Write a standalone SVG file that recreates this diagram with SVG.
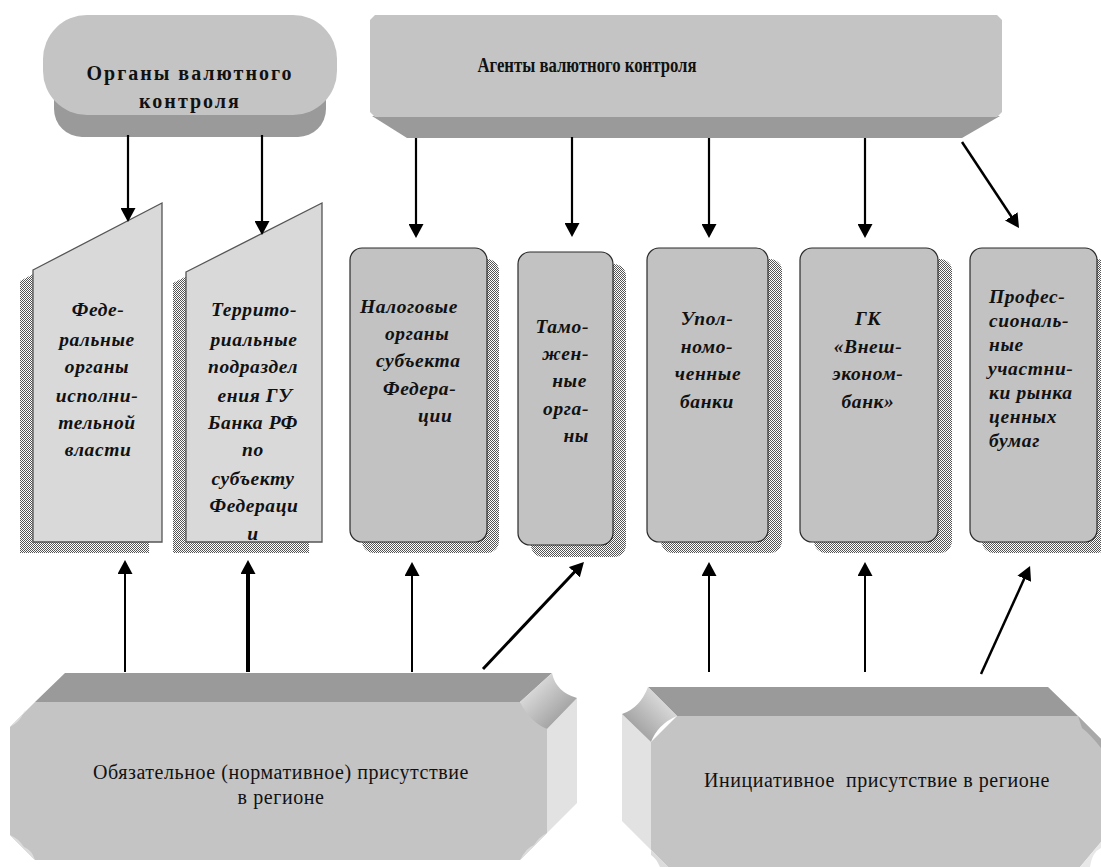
<svg xmlns="http://www.w3.org/2000/svg" width="1101" height="867" viewBox="0 0 1101 867">
<style>
.it{font-family:"Liberation Serif","Times New Roman",serif;font-weight:bold;font-style:italic;font-size:19.5px;letter-spacing:0.6px;fill:#111}
.bd{font-family:"Liberation Serif","Times New Roman",serif;font-weight:bold;font-size:20px;fill:#111}
.rg{font-family:"Liberation Serif","Times New Roman",serif;font-size:20px;letter-spacing:0.55px;fill:#111;white-space:pre}
.mid{text-anchor:middle}
.end{text-anchor:end}
.face{fill:#c4c4c4}
.top{fill:#9a9a9a}
.side{fill:#e2e2e2}
.rnode{fill:#c2c2c2;stroke:#2a2a2a;stroke-width:1.2}
.tnode{fill:#d9d9d9;stroke:#555;stroke-width:1.3}
.shadow{fill:url(#chk)}
.con{stroke:#000;fill:none;marker-end:url(#ah)}
</style>
<defs>
<pattern id="chk" width="2" height="2" patternUnits="userSpaceOnUse">
<rect width="2" height="2" fill="#fff"/>
<rect width="1" height="1" fill="#555"/>
<rect x="1" y="1" width="1" height="1" fill="#555"/>
</pattern>
<marker id="ah" viewBox="0 0 14 15" refX="4" refY="7.5" markerWidth="14" markerHeight="15" markerUnits="userSpaceOnUse" orient="auto">
<path d="M0,0 L14,7.5 L0,15 z" fill="#000"/>
</marker>
<linearGradient id="scoopL" x1="0" y1="0" x2="1" y2="1">
<stop offset="0" stop-color="#f2f2f2"/>
<stop offset="1" stop-color="#8a8a8a"/>
</linearGradient>
<linearGradient id="scoopR" x1="1" y1="0" x2="0" y2="1">
<stop offset="0" stop-color="#f2f2f2"/>
<stop offset="1" stop-color="#8a8a8a"/>
</linearGradient>
</defs>
<rect width="1101" height="867" fill="#fff"/>

<g id="organy">
<rect x="54" y="60" width="272" height="77" rx="28" ry="28" class="top"/>
<rect x="43" y="15" width="294" height="100" rx="44" ry="44" class="face"/>
<text class="bd mid" x="190" y="80" style="letter-spacing:2px">Органы валютного</text>
<text class="bd mid" x="190" y="108" style="letter-spacing:2px">контроля</text>
</g>

<g id="agenty">
<polygon points="372,116 1000,116 962,138 407,138" class="top"/>
<polygon points="375,15 997,15 1002,20 1002,112 997,117 375,117 370,112 370,20" class="face"/>
<text class="bd mid" x="587" y="72" style="font-size:21px" textLength="219" lengthAdjust="spacingAndGlyphs">Агенты валютного контроля</text>
</g>

<g id="federal">
<polygon points="20,281 149,214 149,553 20,553" class="shadow"/>
<polygon points="33,270 162,203 162,542 33,542" class="tnode"/>
<text class="it mid" x="98" y="316">Феде-</text>
<text class="it mid" x="97" y="346">ральные</text>
<text class="it mid" x="97" y="373">органы</text>
<text class="it mid" x="97" y="402">исполни-</text>
<text class="it mid" x="97" y="429">тельной</text>
<text class="it mid" x="98" y="456">власти</text>
</g>

<g id="territorial">
<polygon points="173,283 309,214 309,553 173,553" class="shadow"/>
<polygon points="186,272 322,203 322,542 186,542" class="tnode"/>
<text class="it mid" x="254" y="316">Террито-</text>
<text class="it mid" x="254" y="346">риальные</text>
<text class="it mid" x="253" y="373">подраздел</text>
<text class="it mid" x="255" y="402">ения ГУ</text>
<text class="it mid" x="253" y="429">Банка РФ</text>
<text class="it mid" x="253" y="456">по</text>
<text class="it mid" x="253" y="485">субъекту</text>
<text class="it mid" x="254" y="512">Федераци</text>
<text class="it mid" x="253" y="540">и</text>
</g>

<g id="nalog">
<rect x="362" y="259" width="137" height="294" rx="12" class="shadow"/>
<rect x="350" y="248" width="137" height="294" rx="12" class="rnode"/>
<text class="it" x="360" y="313">Налоговые</text>
<text class="it" x="385" y="340">органы</text>
<text class="it" x="376" y="367">субъекта</text>
<text class="it" x="383" y="395">Федера-</text>
<text class="it" x="418" y="422">ции</text>
</g>

<g id="tamozh">
<rect x="531" y="264" width="95" height="293" rx="12" class="shadow"/>
<rect x="518" y="252" width="95" height="293" rx="12" class="rnode"/>
<text class="it end" x="589" y="333">Тамо-</text>
<text class="it end" x="589" y="360">жен-</text>
<text class="it end" x="587" y="387">ные</text>
<text class="it end" x="589" y="415">орга-</text>
<text class="it end" x="589" y="442">ны</text>
</g>

<g id="upoln">
<rect x="661" y="259" width="121" height="294" rx="12" class="shadow"/>
<rect x="647" y="248" width="121" height="294" rx="12" class="rnode"/>
<text class="it mid" x="707" y="325">Упол-</text>
<text class="it mid" x="707" y="353">номо-</text>
<text class="it mid" x="708" y="380">ченные</text>
<text class="it mid" x="707" y="408">банки</text>
</g>

<g id="veb">
<rect x="814" y="259" width="138" height="294" rx="12" class="shadow"/>
<rect x="800" y="248" width="138" height="294" rx="12" class="rnode"/>
<text class="it mid" x="868" y="325">ГК</text>
<text class="it mid" x="868" y="353">«Внеш-</text>
<text class="it mid" x="868" y="380">эконом-</text>
<text class="it mid" x="868" y="408">банк»</text>
</g>

<g id="prof">
<rect x="982" y="259" width="127" height="294" rx="12" class="shadow"/>
<rect x="970" y="248" width="127" height="294" rx="12" class="rnode"/>
<text class="it" x="989" y="303">Профес-</text>
<text class="it" x="989" y="327">сиональ-</text>
<text class="it" x="989" y="351">ные</text>
<text class="it" x="988" y="375">участни-</text>
<text class="it" x="989" y="399">ки рынка</text>
<text class="it" x="989" y="423">ценных</text>
<text class="it" x="989" y="447">бумаг</text>
</g>

<g id="obyaz">
<polygon points="65,673 552,673 520,702 35,702" class="top"/>
<polygon points="547,729 577,698 577,803 547,833" class="side"/>
<polygon points="35,702 520,702 547,729 547,833 520,860 35,860 10,835 10,727" class="face"/>
<path d="M520,702 L552,673 Q556,692 577,698 L547,729 Q530,722 520,702 Z" fill="url(#scoopL)"/>
<path d="M35,702 L10,727 Q20,722 24,712 Q30,708 35,702 Z" fill="#dcdcdc"/>
<path d="M10,835 L35,860 Q32,850 24,847 Q18,838 10,835 Z" fill="#dcdcdc"/>
<path d="M547,833 L520,860 Q526,848 534,845 Q540,836 547,833 Z" fill="#dcdcdc"/>
<text class="rg mid" x="281" y="779">Обязательное (нормативное) присутствие</text>
<text class="rg mid" x="281" y="804">в регионе</text>
</g>

<g id="initsiat">
<polygon points="648,687 1048,687 1078,716 677,716" class="top"/>
<polygon points="622,714 651,742 651,850 622,821" class="side"/>
<polygon points="677,716 1078,716 1101,739 1101,842 1080,867 668,867 651,850 651,742" class="face"/>
<path d="M648,687 L677,716 Q658,724 651,742 L622,714 Q640,708 648,687 Z" fill="url(#scoopR)"/>
<path d="M1078,716 L1101,739 L1101,748 Q1090,734 1082,728 Z" fill="#a8a8a8"/>
<path d="M651,850 L668,867 L660,867 Q656,858 651,855 Z" fill="#dcdcdc"/>
<path d="M1101,842 L1080,867 L1090,867 Q1092,852 1101,848 Z" fill="#e8e8e8"/>
<text class="rg mid" x="877" y="787">Инициативное  присутствие в регионе</text>
</g>

<g id="connectors">
<line x1="128" y1="135" x2="128" y2="212" class="con" stroke-width="2.2"/>
<line x1="262" y1="135" x2="262" y2="225" class="con" stroke-width="2.2"/>
<line x1="416" y1="138" x2="416" y2="228" class="con" stroke-width="2.2"/>
<line x1="572" y1="137" x2="572" y2="227" class="con" stroke-width="2.2"/>
<line x1="709" y1="138" x2="709" y2="228" class="con" stroke-width="2.2"/>
<line x1="865" y1="138" x2="865" y2="228" class="con" stroke-width="2.2"/>
<line x1="962" y1="142" x2="1013.5" y2="219.7" class="con" stroke-width="2.5"/>
<line x1="125" y1="672" x2="125" y2="570" class="con" stroke-width="2"/>
<line x1="248" y1="672" x2="248" y2="570" class="con" stroke-width="4"/>
<line x1="412" y1="672" x2="412" y2="572" class="con" stroke-width="2"/>
<line x1="483" y1="669" x2="577.1" y2="569.3" class="con" stroke-width="3"/>
<line x1="709" y1="672" x2="709" y2="572" class="con" stroke-width="2"/>
<line x1="865" y1="672" x2="865" y2="572" class="con" stroke-width="2"/>
<line x1="981" y1="674" x2="1025.9" y2="575.1" class="con" stroke-width="2.5"/>
</g>
</svg>
